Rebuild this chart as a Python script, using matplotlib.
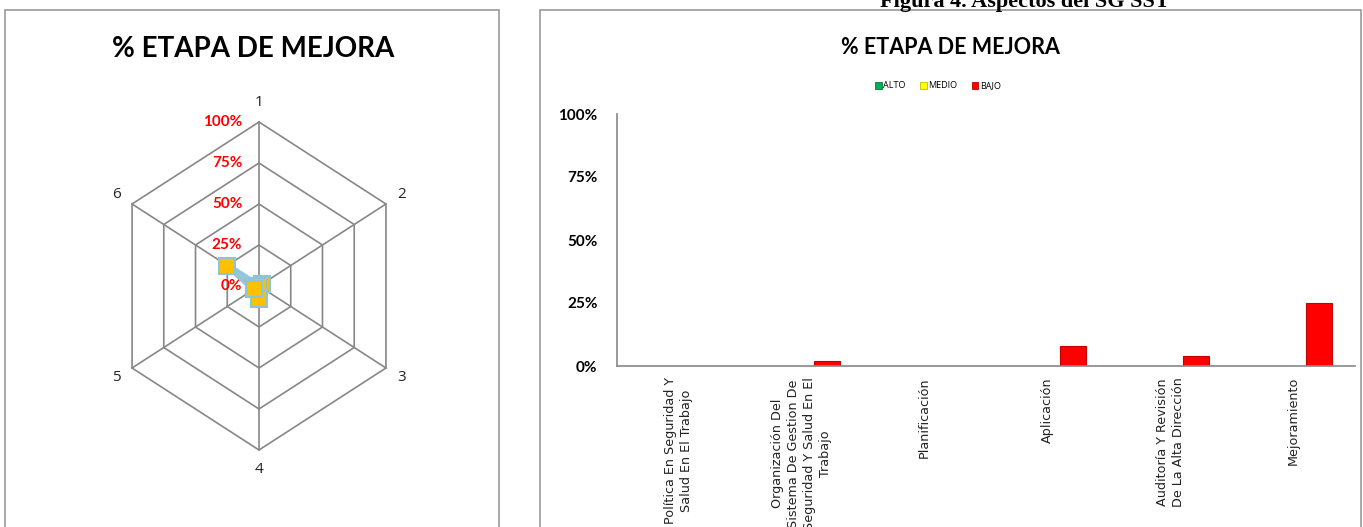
import numpy as np
import matplotlib
matplotlib.use("Agg")
import matplotlib.pyplot as plt
from matplotlib.patches import Rectangle, Patch

# ---------------- data ----------------
radar_axes = ["1", "2", "3", "4", "5", "6"]
radar_values = [0, 2, 0, 8, 4, 25]          # % per axis
radar_ticks = [0, 25, 50, 75, 100]
radar_tick_labels = ["0%", "25%", "50%", "75%", "100%"]

categories = [
    "Política En Seguridad Y\nSalud En El Trabajo",
    "Organización Del\nSistema De Gestion De\nSeguridad Y Salud En El\nTrabajo",
    "Planificación",
    "Aplicación",
    "Auditoría Y Revisión\nDe La Alta Dirección",
    "Mejoramiento",
]
series_names = ["ALTO", "MEDIO", "BAJO"]
alto = [0, 0, 0, 0, 0, 0]
medio = [0, 0, 0, 0, 0, 0]
bajo = [0, 2, 0, 8, 4, 25]
bar_ticks = [0, 25, 50, 75, 100]
bar_tick_labels = ["0%", "25%", "50%", "75%", "100%"]

title_text = "% ETAPA DE MEJORA"
fig_title = "Figura 4. Aspectos del SG SST"

W, H = 1363, 527
fig = plt.figure(figsize=(W / 100, H / 100), dpi=100)
fig.patch.set_facecolor("white")

def fx(px):
    return px / W

def fy(py):
    return 1 - py / H

# panel borders
fig.add_artist(Rectangle((fx(5), fy(540)), fx(494), (540 - 10) / H,
                         transform=fig.transFigure, fill=False,
                         edgecolor="#9a9a9a", lw=1.2))
fig.add_artist(Rectangle((fx(540), fy(540)), fx(821), (540 - 10) / H,
                         transform=fig.transFigure, fill=False,
                         edgecolor="#9a9a9a", lw=1.2))

# ---------------- radar (left) ----------------
cx, cy = 259, 286
sx, sy = 146.6, 164.0
xr, yr = 1.5, 1.4
axr = fig.add_axes([fx(cx - xr * sx), fy(cy + yr * sy), fx(2 * xr * sx), 2 * yr * sy / H])
axr.set_xlim(-xr, xr)
axr.set_ylim(-yr, yr)
axr.axis("off")

n = len(radar_axes)
theta = np.arange(n) * 2 * np.pi / n
rmax = radar_ticks[-1]
grid_c = "#878787"
for t in radar_ticks[1:]:
    r = t / rmax
    xs = np.append(r * np.sin(theta), r * np.sin(theta[0]))
    ys = np.append(r * np.cos(theta), r * np.cos(theta[0]))
    axr.plot(xs, ys, color=grid_c, lw=1.2, zorder=1)
for th in theta:
    axr.plot([0, np.sin(th)], [0, np.cos(th)], color=grid_c, lw=1.2, zorder=1)

for lab, th in zip(radar_axes, theta):
    axr.text(1.12 * np.sin(th), 1.12 * np.cos(th), lab, ha="center", va="center",
             fontsize=11, color="#222222", family="Open Sans")

for t, lab in zip(radar_ticks, radar_tick_labels):
    axr.annotate(lab, (0, t / rmax), xytext=(-12, 0), textcoords="offset points",
                 ha="right", va="center", color="red", fontsize=11,
                 fontweight="bold", family="Lato")

v = np.array(radar_values) / rmax
px = np.append(v * np.sin(theta), v[0] * np.sin(theta[0]))
py = np.append(v * np.cos(theta), v[0] * np.cos(theta[0]))
axr.plot(px, py, color="#93C6D6", lw=4.5, zorder=3, solid_joinstyle="round")
axr.plot(px[:-1], py[:-1], ls="none", marker="s", ms=11, mfc="#FFC000",
         mec="#8CC4D8", mew=1.5, zorder=4)

fig.text(fx(253), fy(49), title_text, ha="center", va="center", fontsize=20,
         fontweight="bold", family="Lato", color="black")

# ---------------- bar chart (right) ----------------
axb = fig.add_axes([fx(617), fy(366), fx(738), 252 / H])
x = np.arange(len(categories))
bw = 0.21
colors = ["#00B050", "#FFFF00", "#FF0000"]
edges = ["#007A38", "#BFBF00", "#C00000"]
for i, (vals, c, e, nm) in enumerate(zip([alto, medio, bajo], colors, edges, series_names)):
    hv = np.array(vals, dtype=float)
    lw = [0.8 if h > 0 else 0 for h in hv]
    axb.bar(x + (i - 1) * bw, hv, width=bw, color=c, edgecolor=e, linewidth=lw,
            label=nm, zorder=2)

axb.set_xlim(-0.5, len(categories) - 0.5)
axb.set_ylim(0, 100)
axb.set_yticks(bar_ticks)
axb.set_yticklabels(bar_tick_labels, fontsize=11, fontweight="bold", family="Lato")
axb.set_xticks(x)
axb.set_xticklabels(categories, rotation=90, fontsize=9.2, family="DejaVu Sans",
                    color="#222222", linespacing=1.3)
axb.tick_params(axis="both", length=0, pad=8)
axb.tick_params(axis="y", pad=14)
for s in ["top", "right"]:
    axb.spines[s].set_visible(False)
for s in ["left", "bottom"]:
    axb.spines[s].set_color("#878787")
    axb.spines[s].set_linewidth(1.2)

handles = [Patch(facecolor=c, edgecolor=e, lw=0.6) for c, e in zip(colors, edges)]
fig.legend(handles, series_names, loc="center", bbox_to_anchor=(fx(938), fy(86)),
           ncol=3, frameon=False, handlelength=0.7, handleheight=0.7,
           handletextpad=0.2, columnspacing=1.6, prop={"family": "Open Sans", "size": 6.5})

fig.text(fx(950), fy(47), title_text, ha="center", va="center", fontsize=15.5,
         fontweight="bold", family="Lato", color="black")

fig.text(fx(1025), fy(7), fig_title, ha="center", va="baseline", fontsize=16,
         fontweight="bold", family="Liberation Serif", color="black")

fig.savefig("out.png", dpi=100, facecolor="white")
